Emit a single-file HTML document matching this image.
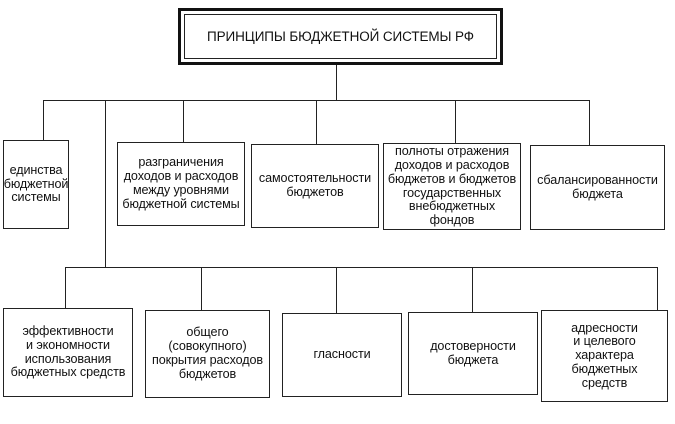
<!DOCTYPE html>
<html><head><meta charset="utf-8"><style>
body{margin:0;width:675px;height:424px;background:#fff;position:relative;overflow:hidden;font-family:"Liberation Sans",sans-serif;color:#111}
.b{position:absolute;border:1.3px solid #222;box-sizing:border-box;display:flex;align-items:center;justify-content:center;text-align:center;font-size:12.6px;line-height:13.8px;letter-spacing:-0.1px}
.l{position:absolute;background:#222}
</style></head><body>
<div class="b" style="left:178px;top:8px;width:325px;height:57px;border:3px solid #111;"><div style="position:absolute;left:3px;top:3px;right:3px;bottom:3px;border:1px solid #222"></div><span style="font-size:13.5px">ПРИНЦИПЫ БЮДЖЕТНОЙ СИСТЕМЫ РФ</span></div>
<div class="l" style="left:336px;top:65px;width:1.3px;height:36px"></div>
<div class="l" style="left:43px;top:100px;width:547px;height:1.3px"></div>
<div class="l" style="left:43px;top:100px;width:1.3px;height:41px"></div>
<div class="l" style="left:105px;top:100px;width:1.3px;height:168px"></div>
<div class="l" style="left:183px;top:100px;width:1.3px;height:42px"></div>
<div class="l" style="left:316px;top:100px;width:1.3px;height:44px"></div>
<div class="l" style="left:455px;top:100px;width:1.3px;height:43px"></div>
<div class="l" style="left:589px;top:100px;width:1.3px;height:45px"></div>
<div class="b" style="left:3px;top:140px;width:66px;height:89px">единства<br>бюджетной<br>системы</div>
<div class="b" style="left:117px;top:142px;width:128px;height:84px">разграничения<br>доходов и расходов<br>между уровнями<br>бюджетной системы</div>
<div class="b" style="left:251px;top:144px;width:128px;height:84px">самостоятельности<br>бюджетов</div>
<div class="b" style="left:383px;top:143px;width:138px;height:87px">полноты отражения<br>доходов и расходов<br>бюджетов и бюджетов<br>государственных<br>внебюджетных<br>фондов</div>
<div class="b" style="left:530px;top:145px;width:135px;height:85px">сбалансированности<br>бюджета</div>
<div class="l" style="left:65px;top:267px;width:593px;height:1.3px"></div>
<div class="l" style="left:65px;top:267px;width:1.3px;height:42px"></div>
<div class="l" style="left:201px;top:267px;width:1.3px;height:44px"></div>
<div class="l" style="left:336px;top:267px;width:1.3px;height:47px"></div>
<div class="l" style="left:472px;top:267px;width:1.3px;height:46px"></div>
<div class="l" style="left:657px;top:267px;width:1.3px;height:44px"></div>
<div class="b" style="left:3px;top:308px;width:130px;height:89px">эффективности<br>и экономности<br>использования<br>бюджетных средств</div>
<div class="b" style="left:145px;top:310px;width:125px;height:88px">общего<br>(совокупного)<br>покрытия расходов<br>бюджетов</div>
<div class="b" style="left:282px;top:313px;width:120px;height:84px">гласности</div>
<div class="b" style="left:408px;top:312px;width:130px;height:83px">достоверности<br>бюджета</div>
<div class="b" style="left:541px;top:310px;width:127px;height:92px">адресности<br>и целевого<br>характера<br>бюджетных<br>средств</div>
</body></html>
